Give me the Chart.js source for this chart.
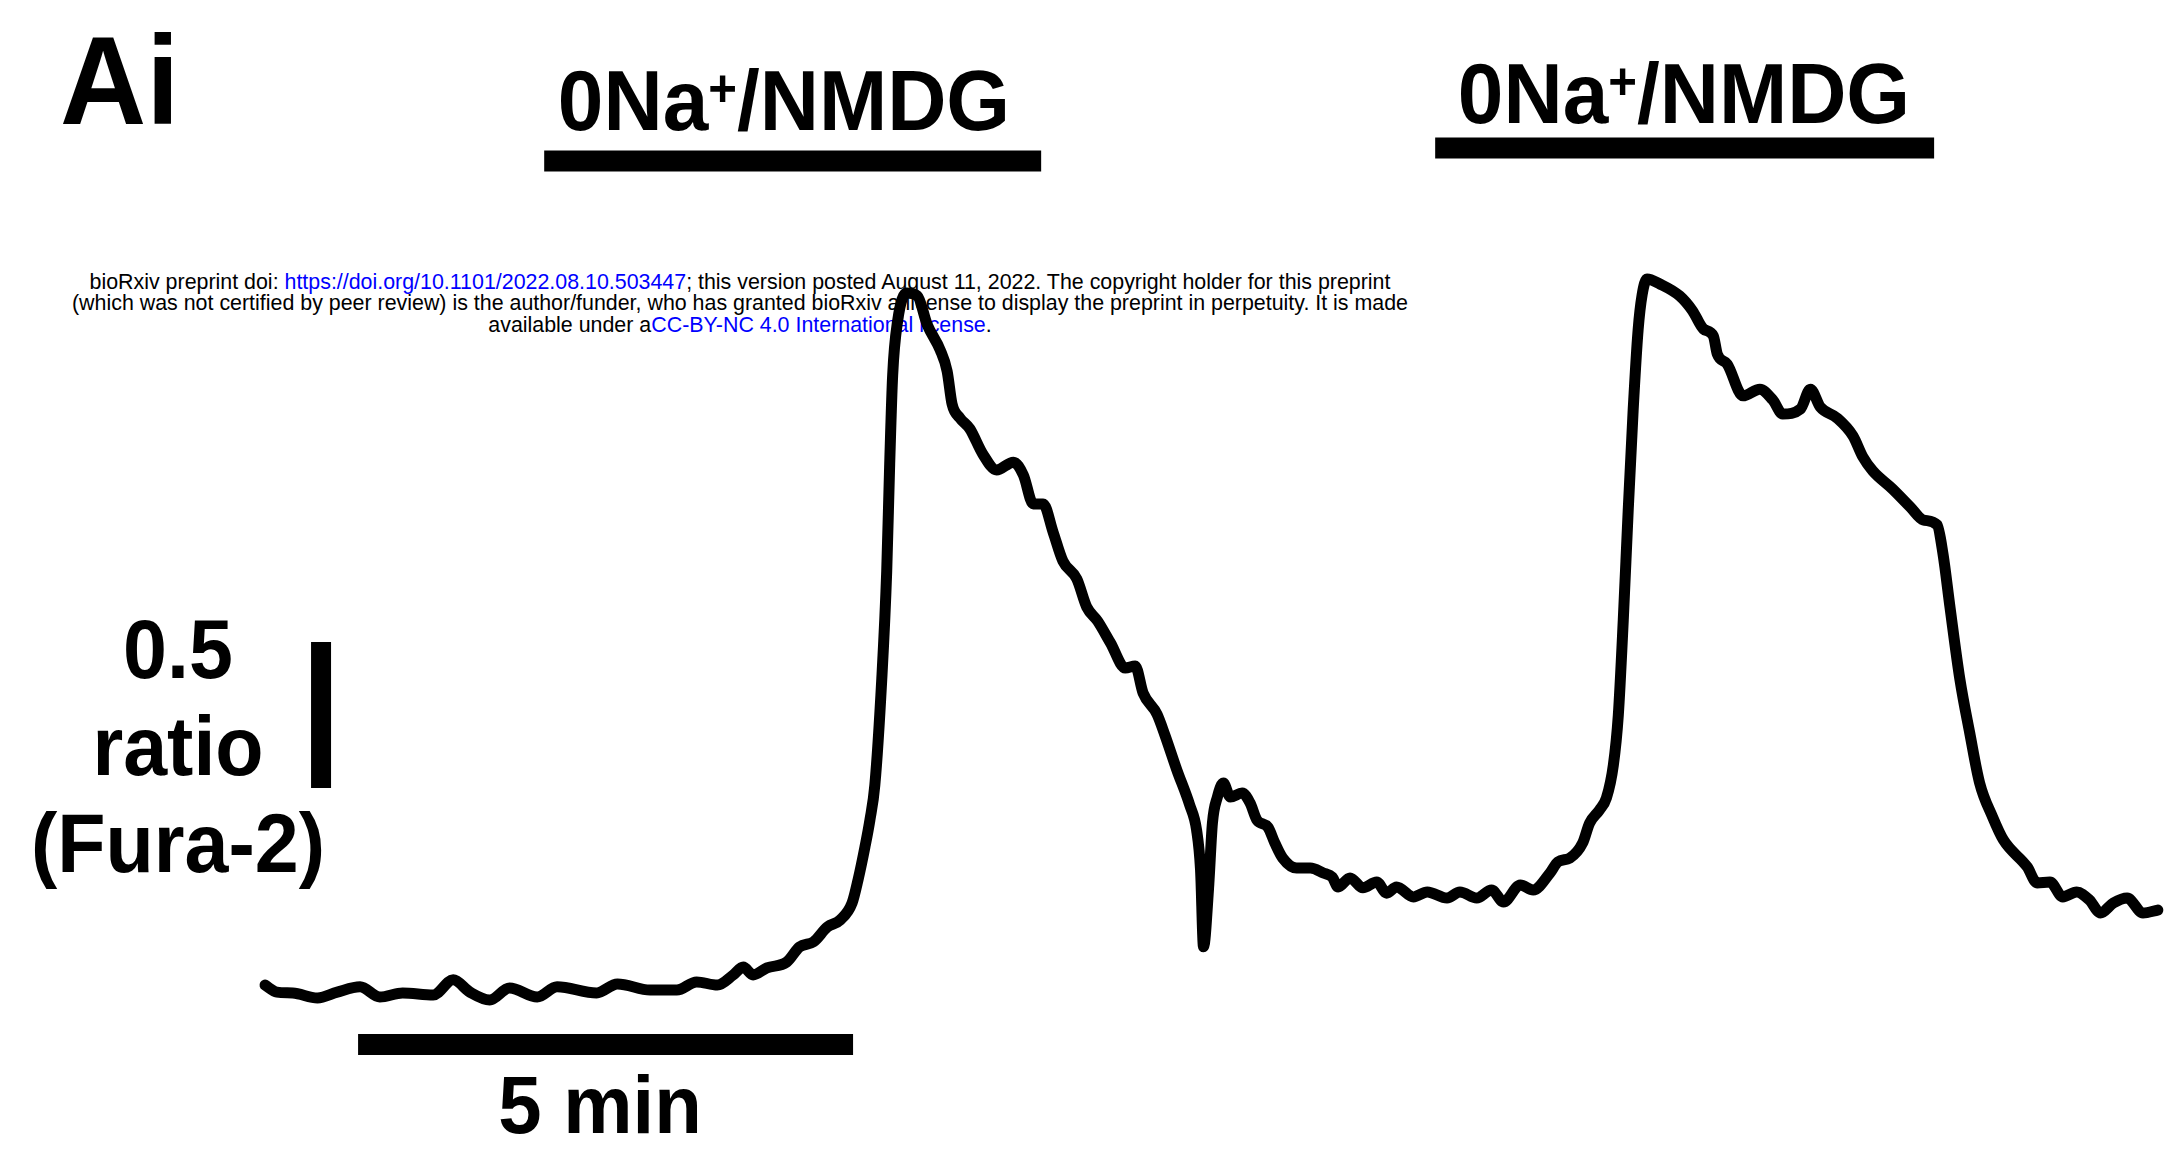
<!DOCTYPE html>
<html>
<head>
<meta charset="utf-8">
<script src="https://cdn.jsdelivr.net/npm/chart.js@4"></script>
<style>
  html, body { margin: 0; padding: 0; background: #fff; }
  #wrap { position: relative; width: 2183px; height: 1154px; overflow: hidden; background: #fff; }
  #trace { position: absolute; left: 0; top: 0; z-index: 1; }
  .lbl { position: absolute; z-index: 2; font-family: "Liberation Sans", Arial, sans-serif; font-weight: bold;
         color: #000; white-space: nowrap; line-height: 1; text-align: center; }
  .lbl sup { font-size: 0.6em; position: relative; top: -0.46em; vertical-align: baseline; line-height: 0; }
  #panel { left: 60px; top: 16.5px; font-size: 127px; text-align: left; transform: scaleX(0.94); transform-origin: left center; }
  #stim1 { left: 384px; top: 57px; width: 800px; font-size: 86px; transform: scaleX(0.953); }
  #stim2 { left: 1284px; top: 50px; width: 800px; font-size: 86px; transform: scaleX(0.953); }
  #tlabel { left: 400px; top: 1064px; width: 400px; font-size: 82px; transform: scaleX(0.95); }
  #ylabel { left: -22px; top: 601px; width: 400px; font-size: 84px; line-height: 97px; transform: scaleX(0.94); }
  #biorxiv { position: absolute; z-index: 0; left: 40px; top: 271.8px; width: 1400px; text-align: center;
             font-family: "Liberation Sans", Arial, sans-serif; font-size: 21.4px; line-height: 21.5px; color: #000; white-space: nowrap; }
  #biorxiv span { color: #0000ff; }
</style>
</head>
<body>
<div id="wrap">
  <div id="biorxiv">bioRxiv preprint doi: <span>https://doi.org/10.1101/2022.08.10.503447</span>; this version posted August 11, 2022. The copyright holder for this preprint<br>(which was not certified by peer review) is the author/funder, who has granted bioRxiv a license to display the preprint in perpetuity. It is made<br>available under a<span>CC-BY-NC 4.0 International license</span>.</div>
  <canvas id="trace" width="2183" height="1154"></canvas>
  <div class="lbl" id="panel">Ai</div>
  <div class="lbl" id="stim1">0Na<sup>+</sup>/NMDG</div>
  <div class="lbl" id="stim2">0Na<sup>+</sup>/NMDG</div>
  <div class="lbl" id="tlabel">5 min</div>
  <div class="lbl" id="ylabel">0.5<br>ratio<br>(Fura-2)</div>
</div>
<script>
// Fura-2 ratio trace, time in minutes
const timeMin = [0.01,0.13,0.29,0.54,0.74,0.97,1.17,1.40,1.71,1.91,
  2.08,2.28,2.48,2.76,2.96,3.36,3.57,3.90,4.17,4.37,
  4.58,4.74,4.84,4.94,5.08,5.28,5.41,5.55,5.69,5.82,
  5.94,6.00,6.07,6.12,6.17,6.24,6.29,6.32,6.35,6.40,
  6.49,6.60,6.70,6.83,6.90,6.95,7.03,7.13,7.26,7.40,
  7.57,7.67,7.77,7.87,7.97,8.07,8.21,8.31,8.42,8.55,
  8.70,8.80,8.88,9.02,9.10,9.22,9.35,9.42,9.46,9.49,
  9.54,9.58,9.63,9.69,9.76,9.88,9.96,10.03,10.14,10.21,
  10.29,10.43,10.57,10.70,10.79,10.85,10.97,11.10,11.24,11.34,
  11.44,11.61,11.75,11.95,12.08,12.25,12.40,12.52,12.69,12.82,
  12.99,13.07,13.19,13.32,13.39,13.49,13.56,13.63,13.68,13.73,
  13.78,13.83,13.88,13.92,13.97,14.10,14.30,14.43,14.54,14.64,
  14.68,14.78,14.94,15.11,15.24,15.34,15.52,15.62,15.72,15.89,
  16.05,16.15,16.25,16.45,16.63,16.76,16.90,16.96,17.03,17.13,
  17.23,17.33,17.46,17.57,17.81,17.91,18.04,18.17,18.31,18.44,
  18.55,18.68,18.82,18.98,19.13];
const ratio = [0.527,0.503,0.500,0.483,0.503,0.521,0.486,0.500,0.493,0.545,
  0.503,0.476,0.517,0.486,0.521,0.500,0.531,0.510,0.510,0.538,
  0.527,0.562,0.589,0.562,0.586,0.606,0.658,0.675,0.726,0.750,
  0.808,0.887,1.000,1.092,1.212,1.575,1.945,2.312,2.616,2.801,
  2.897,2.887,2.788,2.702,2.630,2.517,2.469,2.432,2.346,2.291,
  2.318,2.274,2.175,2.175,2.079,1.979,1.918,1.822,1.774,1.699,
  1.613,1.620,1.527,1.455,1.383,1.264,1.144,1.058,0.921,0.658,
  0.853,1.082,1.171,1.219,1.171,1.185,1.151,1.092,1.068,1.014,
  0.962,0.928,0.928,0.911,0.897,0.863,0.894,0.860,0.880,0.842,
  0.863,0.829,0.846,0.825,0.846,0.825,0.853,0.812,0.870,0.853,
  0.911,0.949,0.962,1.014,1.082,1.127,1.168,1.281,1.452,1.777,
  2.154,2.497,2.771,2.890,2.945,2.928,2.887,2.836,2.774,2.750,
  2.688,2.654,2.545,2.568,2.531,2.483,2.500,2.568,2.507,2.469,
  2.408,2.336,2.288,2.226,2.164,2.120,2.103,2.003,1.822,1.575,
  1.390,1.219,1.103,1.024,0.932,0.877,0.880,0.829,0.846,0.818,
  0.774,0.808,0.825,0.774,0.784];

// 0Na+/NMDG applications (min) and the level the bars sit at
const stimStart = [2.83, 11.83];
const stimEnd   = [7.85, 16.87];
const stimLevel = [3.349, 3.394];

// scale bars: 5 min and 0.5 ratio
const scaleTime = 5, scaleTimeStart = 0.95, scaleTimeLevel = 0.324;
const scaleRatio = 0.5, scaleRatioAt = 0.576, scaleRatioBase = 1.202;

const n = Math.min(timeMin.length, ratio.length);
const tracePts = [];
for (let i = 0; i < n; i++) tracePts.push({ x: timeMin[i], y: ratio[i] });

const bar = (pts, w) => ({
  data: pts, borderColor: '#000', borderWidth: w, pointRadius: 0,
  borderCapStyle: 'butt', tension: 0, fill: false
});

const datasets = [
  { data: tracePts, borderColor: '#000', borderWidth: 11, pointRadius: 0,
    cubicInterpolationMode: 'monotone', borderJoinStyle: 'round', borderCapStyle: 'round', fill: false }
];
stimStart.forEach((s, i) => {
  datasets.push(bar([{ x: s, y: stimLevel[i] }, { x: stimEnd[i], y: stimLevel[i] }], 21));
});
datasets.push(bar([{ x: scaleTimeStart, y: scaleTimeLevel }, { x: scaleTimeStart + scaleTime, y: scaleTimeLevel }], 21));
datasets.push(bar([{ x: scaleRatioAt, y: scaleRatioBase }, { x: scaleRatioAt, y: scaleRatioBase + scaleRatio }], 20));

new Chart(document.getElementById('trace'), {
  type: 'line',
  data: { datasets },
  options: {
    responsive: false, animation: false, devicePixelRatio: 1,
    layout: { padding: 0 },
    plugins: { legend: { display: false }, tooltip: { enabled: false } },
    scales: {
      x: { type: 'linear', min: -2.667, max: 19.384, display: false },
      y: { type: 'linear', min: -0.0514, max: 3.9007, display: false }
    }
  }
});
</script>
</body>
</html>
